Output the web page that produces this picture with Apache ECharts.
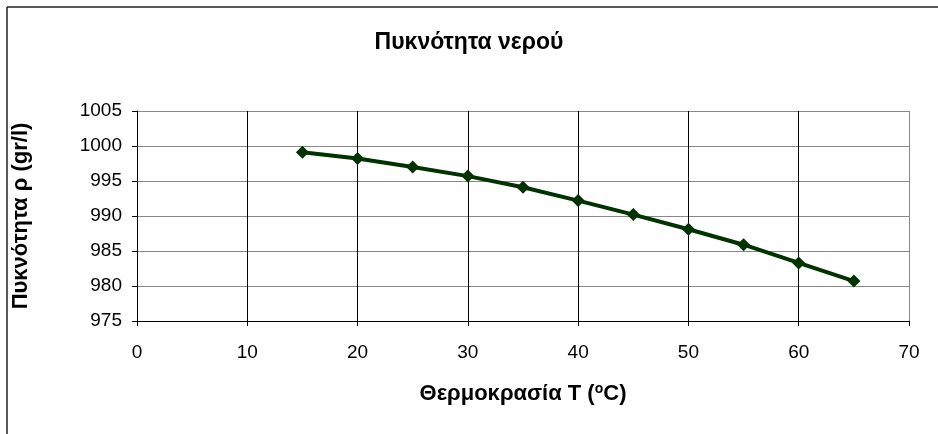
<!DOCTYPE html>
<html>
<head>
<meta charset="utf-8">
<script src="https://cdn.jsdelivr.net/npm/echarts@6/dist/echarts.min.js"></script>
<style>
html,body{margin:0;padding:0;background:#fff;}
#c{width:938px;height:434px;}
</style>
</head>
<body>
<div id="c"></div>
<script>
const temperatures = [15, 20, 25, 30, 35, 40, 45, 50, 55, 60, 65];
const densities = [999.1, 998.2, 997.0, 995.7, 994.1, 992.2, 990.2, 988.1, 985.9, 983.3, 980.7];
const titleText = 'Πυκνότητα νερού';
const yName = 'Πυκνότητα ρ (gr/l)';
const xNameParts = ['Θερμοκρασία Τ (', 'o', 'C)'];

const FONT = '"Liberation Sans", Arial, sans-serif';
const chart = echarts.init(document.getElementById('c'));
chart.setOption({
  animation: false,
  backgroundColor: '#fff',
  textStyle: { fontFamily: FONT },
  title: {
    text: titleText,
    left: 'center',
    top: 26,
    textStyle: { fontFamily: FONT, fontSize: 23, fontWeight: 'bold', color: '#000' }
  },
  grid: { left: 137, right: 29, top: 111, bottom: 113, containLabel: false },
  xAxis: {
    type: 'value', min: 0, max: 70, interval: 10,
    name: '{a|' + xNameParts[0] + '}{s|' + xNameParts[1] + '}{a|' + xNameParts[2] + '}',
    nameLocation: 'middle', nameGap: 61,
    nameTextStyle: {
      rich: {
        a: { fontFamily: FONT, fontSize: 22, fontWeight: 'bold', color: '#000' },
        s: { fontFamily: FONT, fontSize: 14, fontWeight: 'bold', color: '#000', verticalAlign: 'top', padding: [0, 0, 9, 0] }
      }
    },
    axisLine: { show: true, onZero: false, lineStyle: { color: '#000', width: 1 } },
    axisTick: { show: true, inside: false, length: 5, lineStyle: { color: '#000' } },
    axisLabel: { fontFamily: FONT, fontSize: 19, color: '#000', margin: 22 },
    splitLine: { show: true, lineStyle: { color: ['#000','#000','#000','#000','#000','#000','#000','#888'], width: 1 } }
  },
  yAxis: {
    type: 'value', min: 975, max: 1005, interval: 5,
    name: yName, nameLocation: 'middle', nameGap: 105, nameRotate: 90,
    nameTextStyle: { fontFamily: FONT, fontSize: 22, fontWeight: 'bold', color: '#000' },
    axisLine: { show: true, lineStyle: { color: '#000', width: 1 } },
    axisTick: { show: true, inside: false, length: 5, lineStyle: { color: '#000' } },
    axisLabel: { fontFamily: FONT, fontSize: 19, color: '#000', margin: 15, formatter: v => String(v) },
    splitLine: { show: true, lineStyle: { color: '#888', width: 1 } }
  },
  graphic: [
    { type: 'line', shape: { x1: 7, y1: 7, x2: 938, y2: 7 }, style: { stroke: '#222', lineWidth: 1.5 }, silent: true },
    { type: 'line', shape: { x1: 7, y1: 7, x2: 7, y2: 434 }, style: { stroke: '#222', lineWidth: 1.5 }, silent: true }
  ],
  series: [{
    type: 'line',
    data: temperatures.map((t, i) => [t, densities[i]]),
    symbol: 'diamond', symbolSize: 13,
    itemStyle: { color: '#003300' },
    lineStyle: { color: '#003300', width: 4 },
    smooth: false
  }]
});
</script>
</body>
</html>
